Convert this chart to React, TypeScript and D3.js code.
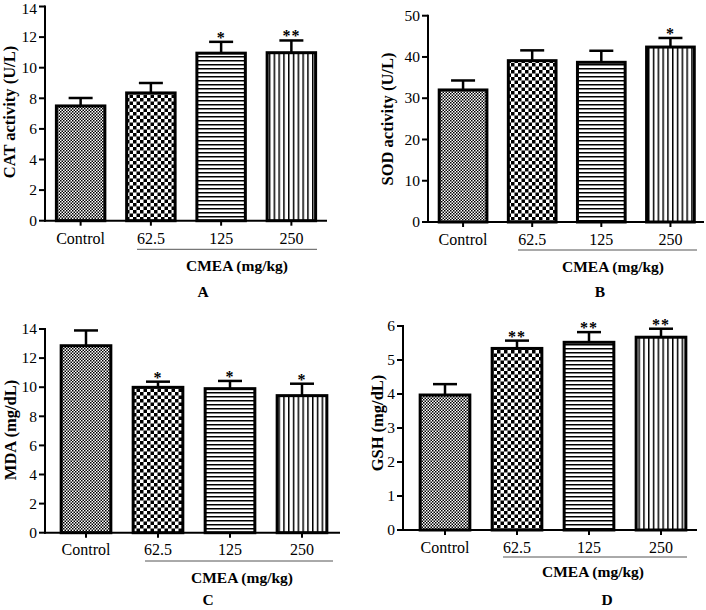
import React from "react";
import * as d3 from "d3";

const categories = ["Control", "62.5", "125", "250"];

const catMeans = [7.5, 8.35, 10.95, 10.98];
const catSem = [0.52, 0.65, 0.74, 0.8];
const catSig = ["", "", "*", "**"];

const sodMeans = [32.0, 39.1, 38.7, 42.4];
const sodSem = [2.3, 2.5, 2.8, 2.2];
const sodSig = ["", "", "", "*"];

const mdaMeans = [12.85, 9.99, 9.9, 9.42];
const mdaSem = [1.05, 0.39, 0.53, 0.82];
const mdaSig = ["", "*", "*", "*"];

const gshMeans = [3.97, 5.34, 5.52, 5.67];
const gshSem = [0.32, 0.23, 0.3, 0.25];
const gshSig = ["", "**", "**", "**"];

const yTicksA = [0, 2, 4, 6, 8, 10, 12, 14];
const yTicksB = [0, 10, 20, 30, 40, 50];
const yTicksC = [0, 2, 4, 6, 8, 10, 12, 14];
const yTicksD = [0, 1, 2, 3, 4, 5, 6];

const groupLabel = "CMEA (mg/kg)";
const patterns = ["patCtrl", "patChk", "patH", "patV"];

const FONT = "'Liberation Serif', 'Times New Roman', serif";

type Panel = {
  letter: string;
  title: string;
  means: number[];
  sem: number[];
  sig: string[];
  ticks: number[];
  axisX: number;
  bandL: number;
  bandR: number;
  axisEnd: number;
  y0: number;
  yTop: number;
  titleX: number;
  titleY: number;
  tickBase: number;
  ulY: number;
  ulStart: number;
  ulEnd: number;
  cmeaX: number;
  cmeaBase: number;
  letterX: number;
  letterBase: number;
};

const panels: Panel[] = [
  {
    letter: "A", title: "CAT activity (U/L)", means: catMeans, sem: catSem, sig: catSig, ticks: yTicksA,
    axisX: 45, bandL: 45.5, bandR: 326.5, axisEnd: 327, y0: 220.7, yTop: 6.5,
    titleX: 14.5, titleY: 112, tickBase: 244, ulY: 249.3, ulStart: 137, ulEnd: 317,
    cmeaX: 237, cmeaBase: 270.7, letterX: 203, letterBase: 297,
  },
  {
    letter: "B", title: "SOD activity (U/L)", means: sodMeans, sem: sodSem, sig: sodSig, ticks: yTicksB,
    axisX: 428, bandL: 428.5, bandR: 705, axisEnd: 704, y0: 222, yTop: 15.7,
    titleX: 393, titleY: 119, tickBase: 245, ulY: 250, ulStart: 518, ulEnd: 697,
    cmeaX: 613, cmeaBase: 271.5, letterX: 600, letterBase: 297,
  },
  {
    letter: "C", title: "MDA (mg/dL)", means: mdaMeans, sem: mdaSem, sig: mdaSig, ticks: yTicksC,
    axisX: 45, bandL: 50, bandR: 338, axisEnd: 340, y0: 532.7, yTop: 329,
    titleX: 15.5, titleY: 430, tickBase: 555, ulY: 561, ulStart: 145, ulEnd: 333,
    cmeaX: 242, cmeaBase: 583, letterX: 208, letterBase: 605,
  },
  {
    letter: "D", title: "GSH (mg/dL)", means: gshMeans, sem: gshSem, sig: gshSig, ticks: yTicksD,
    axisX: 403, bandL: 409, bandR: 697, axisEnd: 697, y0: 530, yTop: 326,
    titleX: 383, titleY: 423, tickBase: 552.7, ulY: 557, ulStart: 503, ulEnd: 687,
    cmeaX: 593, cmeaBase: 577, letterX: 607, letterBase: 605,
  },
];

function PanelView({ p }: { p: Panel }) {
  const maxV = p.ticks[p.ticks.length - 1];
  const y = d3.scaleLinear().domain([0, maxV]).range([p.y0, p.yTop]);
  const x = d3.scaleBand<string>().domain(categories).range([p.bandL, p.bandR]).padding(0);
  const bw = x.bandwidth() * 0.69;
  const capW = 24;
  return (
    <g>
      {categories.map((c, i) => {
        const cx = (x(c) as number) + x.bandwidth() / 2;
        const top = y(p.means[i]);
        const capY = y(p.means[i] + p.sem[i]);
        return (
          <g key={c}>
            <line x1={cx} x2={cx} y1={top} y2={capY} stroke="#000" strokeWidth={2.5} />
            <line x1={cx - capW / 2} x2={cx + capW / 2} y1={capY} y2={capY} stroke="#000" strokeWidth={2.5} />
            <rect x={cx - bw / 2} y={top} width={bw} height={p.y0 - top} fill={`url(#${patterns[i]})`} stroke="#000" strokeWidth={3} />
            {p.sig[i] && (
              <text x={cx} y={capY + 1} textAnchor="middle" fontFamily={FONT} fontWeight="bold" fontSize={16} letterSpacing={1}>
                {p.sig[i]}
              </text>
            )}
            <line x1={cx} x2={cx} y1={p.y0} y2={p.y0 + 5} stroke="#000" strokeWidth={2} />
            <text x={cx} y={p.tickBase} textAnchor="middle" fontFamily={FONT} fontSize={16}>
              {c}
            </text>
          </g>
        );
      })}
      <line x1={p.axisX} x2={p.axisX} y1={p.yTop - 1} y2={p.y0 + 1} stroke="#000" strokeWidth={2} />
      <line x1={p.axisX - 1} x2={p.axisEnd} y1={p.y0} y2={p.y0} stroke="#000" strokeWidth={2} />
      {p.ticks.map((t) => (
        <g key={t}>
          <line x1={p.axisX - 6} x2={p.axisX} y1={y(t)} y2={y(t)} stroke="#000" strokeWidth={2} />
          <text x={p.axisX - 8} y={Math.max(y(t) + 5.2, 14)} textAnchor="end" fontFamily={FONT} fontSize={15.5}>
            {t}
          </text>
        </g>
      ))}
      <text
        transform={`translate(${p.titleX},${p.titleY}) rotate(-90)`}
        textAnchor="middle"
        fontFamily={FONT}
        fontWeight="bold"
        fontSize={16.5}
      >
        {p.title}
      </text>
      <line x1={p.ulStart} x2={p.ulEnd} y1={p.ulY} y2={p.ulY} stroke="#555" strokeWidth={1} />
      <text x={p.cmeaX} y={p.cmeaBase} textAnchor="middle" fontFamily={FONT} fontWeight="bold" fontSize={15.5}>
        {groupLabel}
      </text>
      <text x={p.letterX} y={p.letterBase} textAnchor="middle" fontFamily={FONT} fontWeight="bold" fontSize={15.5}>
        {p.letter}
      </text>
    </g>
  );
}

export default function App() {
  return (
    <svg
      width={706}
      height={610}
      style={{ position: "absolute", left: 0, top: 0, background: "#fff" }}
    >
      <defs>
        <pattern id="patCtrl" patternUnits="userSpaceOnUse" width={3} height={3}>
          <rect width={3} height={3} fill="#fff" />
          <rect x={0} y={0} width={1.5} height={1.5} fill="#000" />
          <rect x={1.5} y={1.5} width={1.5} height={1.5} fill="#000" />
        </pattern>
        <pattern id="patChk" patternUnits="userSpaceOnUse" width={7} height={7}>
          <rect width={7} height={7} fill="#fff" />
          <rect x={0} y={0} width={3.5} height={3.5} fill="#000" />
          <rect x={3.5} y={3.5} width={3.5} height={3.5} fill="#000" />
        </pattern>
        <pattern id="patH" patternUnits="userSpaceOnUse" width={4} height={4}>
          <rect width={4} height={4} fill="#fff" />
          <rect x={0} y={0} width={4} height={1.5} fill="#000" />
        </pattern>
        <pattern id="patV" patternUnits="userSpaceOnUse" width={4.8} height={4.8}>
          <rect width={4.8} height={4.8} fill="#fff" />
          <rect x={0} y={0} width={1.5} height={4.8} fill="#000" />
        </pattern>
      </defs>
      <rect width={706} height={610} fill="#fff" />
      {panels.map((p) => (
        <PanelView key={p.letter} p={p} />
      ))}
    </svg>
  );
}
